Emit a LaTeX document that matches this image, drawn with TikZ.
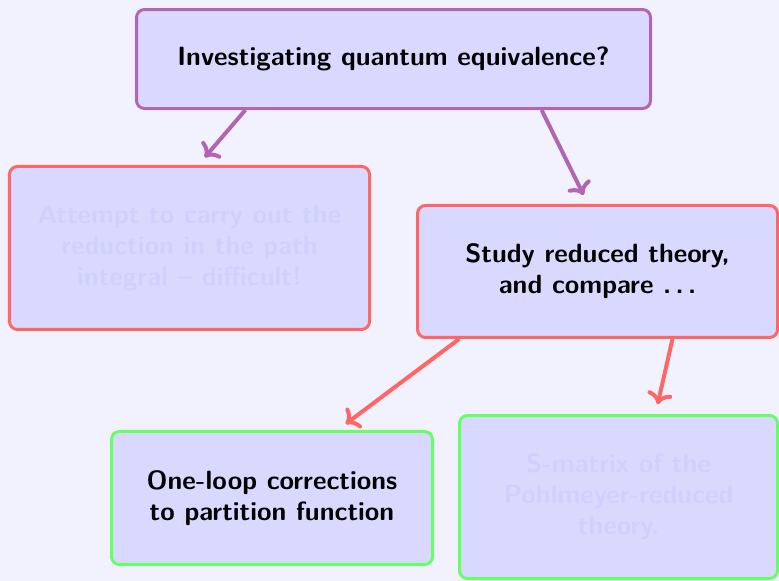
\documentclass[tikz,border=0pt]{standalone}
\usepackage{tikz}
\usetikzlibrary{arrows.meta,positioning,calc}
\definecolor{frameBg}{RGB}{242,242,255}
\definecolor{boxFill}{RGB}{217,217,255}
\definecolor{questPurple}{RGB}{178,102,178}
\definecolor{questRed}{RGB}{255,102,102}
\definecolor{questGreen}{RGB}{102,255,102}
\definecolor{questFaded}{RGB}{208,208,255}

\begin{document}
\begin{tikzpicture}[
    box/.style={rectangle, rounded corners=4pt, fill=boxFill, line width=1.5pt,
                align=center, font=\fontsize{13.2}{15.6}\selectfont\sffamily\bfseries},
    arr/.style={-{To}, line width=2pt, shorten >=5pt},
    faded/.style={text=questFaded}]

    \useasboundingbox[fill=frameBg] (0,0) rectangle (389.5pt,-290.5pt);

    % Boxes
    \node[box, draw=questPurple, minimum width=257pt, minimum height=49.5pt]
      (quest) at (6.915,-1.037) {Investigating quantum equivalence?};
    \node[box, draw=questRed, faded, minimum width=180pt, minimum height=81.5pt]
      (attempt) at (3.330,-4.358) {Attempt to carry out the\\reduction in the path\\integral -- difficult!};
    \node[box, draw=questRed, minimum width=180pt, minimum height=66pt]
      (study) at (10.500,-4.771) {Study reduced theory,\\and compare .\,.\,.};
    \node[box, draw=questGreen, minimum width=160.5pt, minimum height=66.5pt]
      (oneloop) at (4.780,-8.751) {One-loop corrections\\to partition function};
    \node[box, draw=questGreen, faded, minimum width=159pt, minimum height=81.5pt]
      (smatrix) at (10.869,-8.734) {S-matrix of the\\Pohlmeyer-reduced\\theory.};

    % Arrows
    \draw[arr, questPurple] (quest.199) -- (attempt.84);
    \draw[arr, questPurple] (quest.-19) -- (study.98);
    \draw[arr, questRed] (study.206) -- (oneloop.46);
    \draw[arr, questRed] (study.-42) -- (smatrix.66);

\end{tikzpicture}
\end{document}
